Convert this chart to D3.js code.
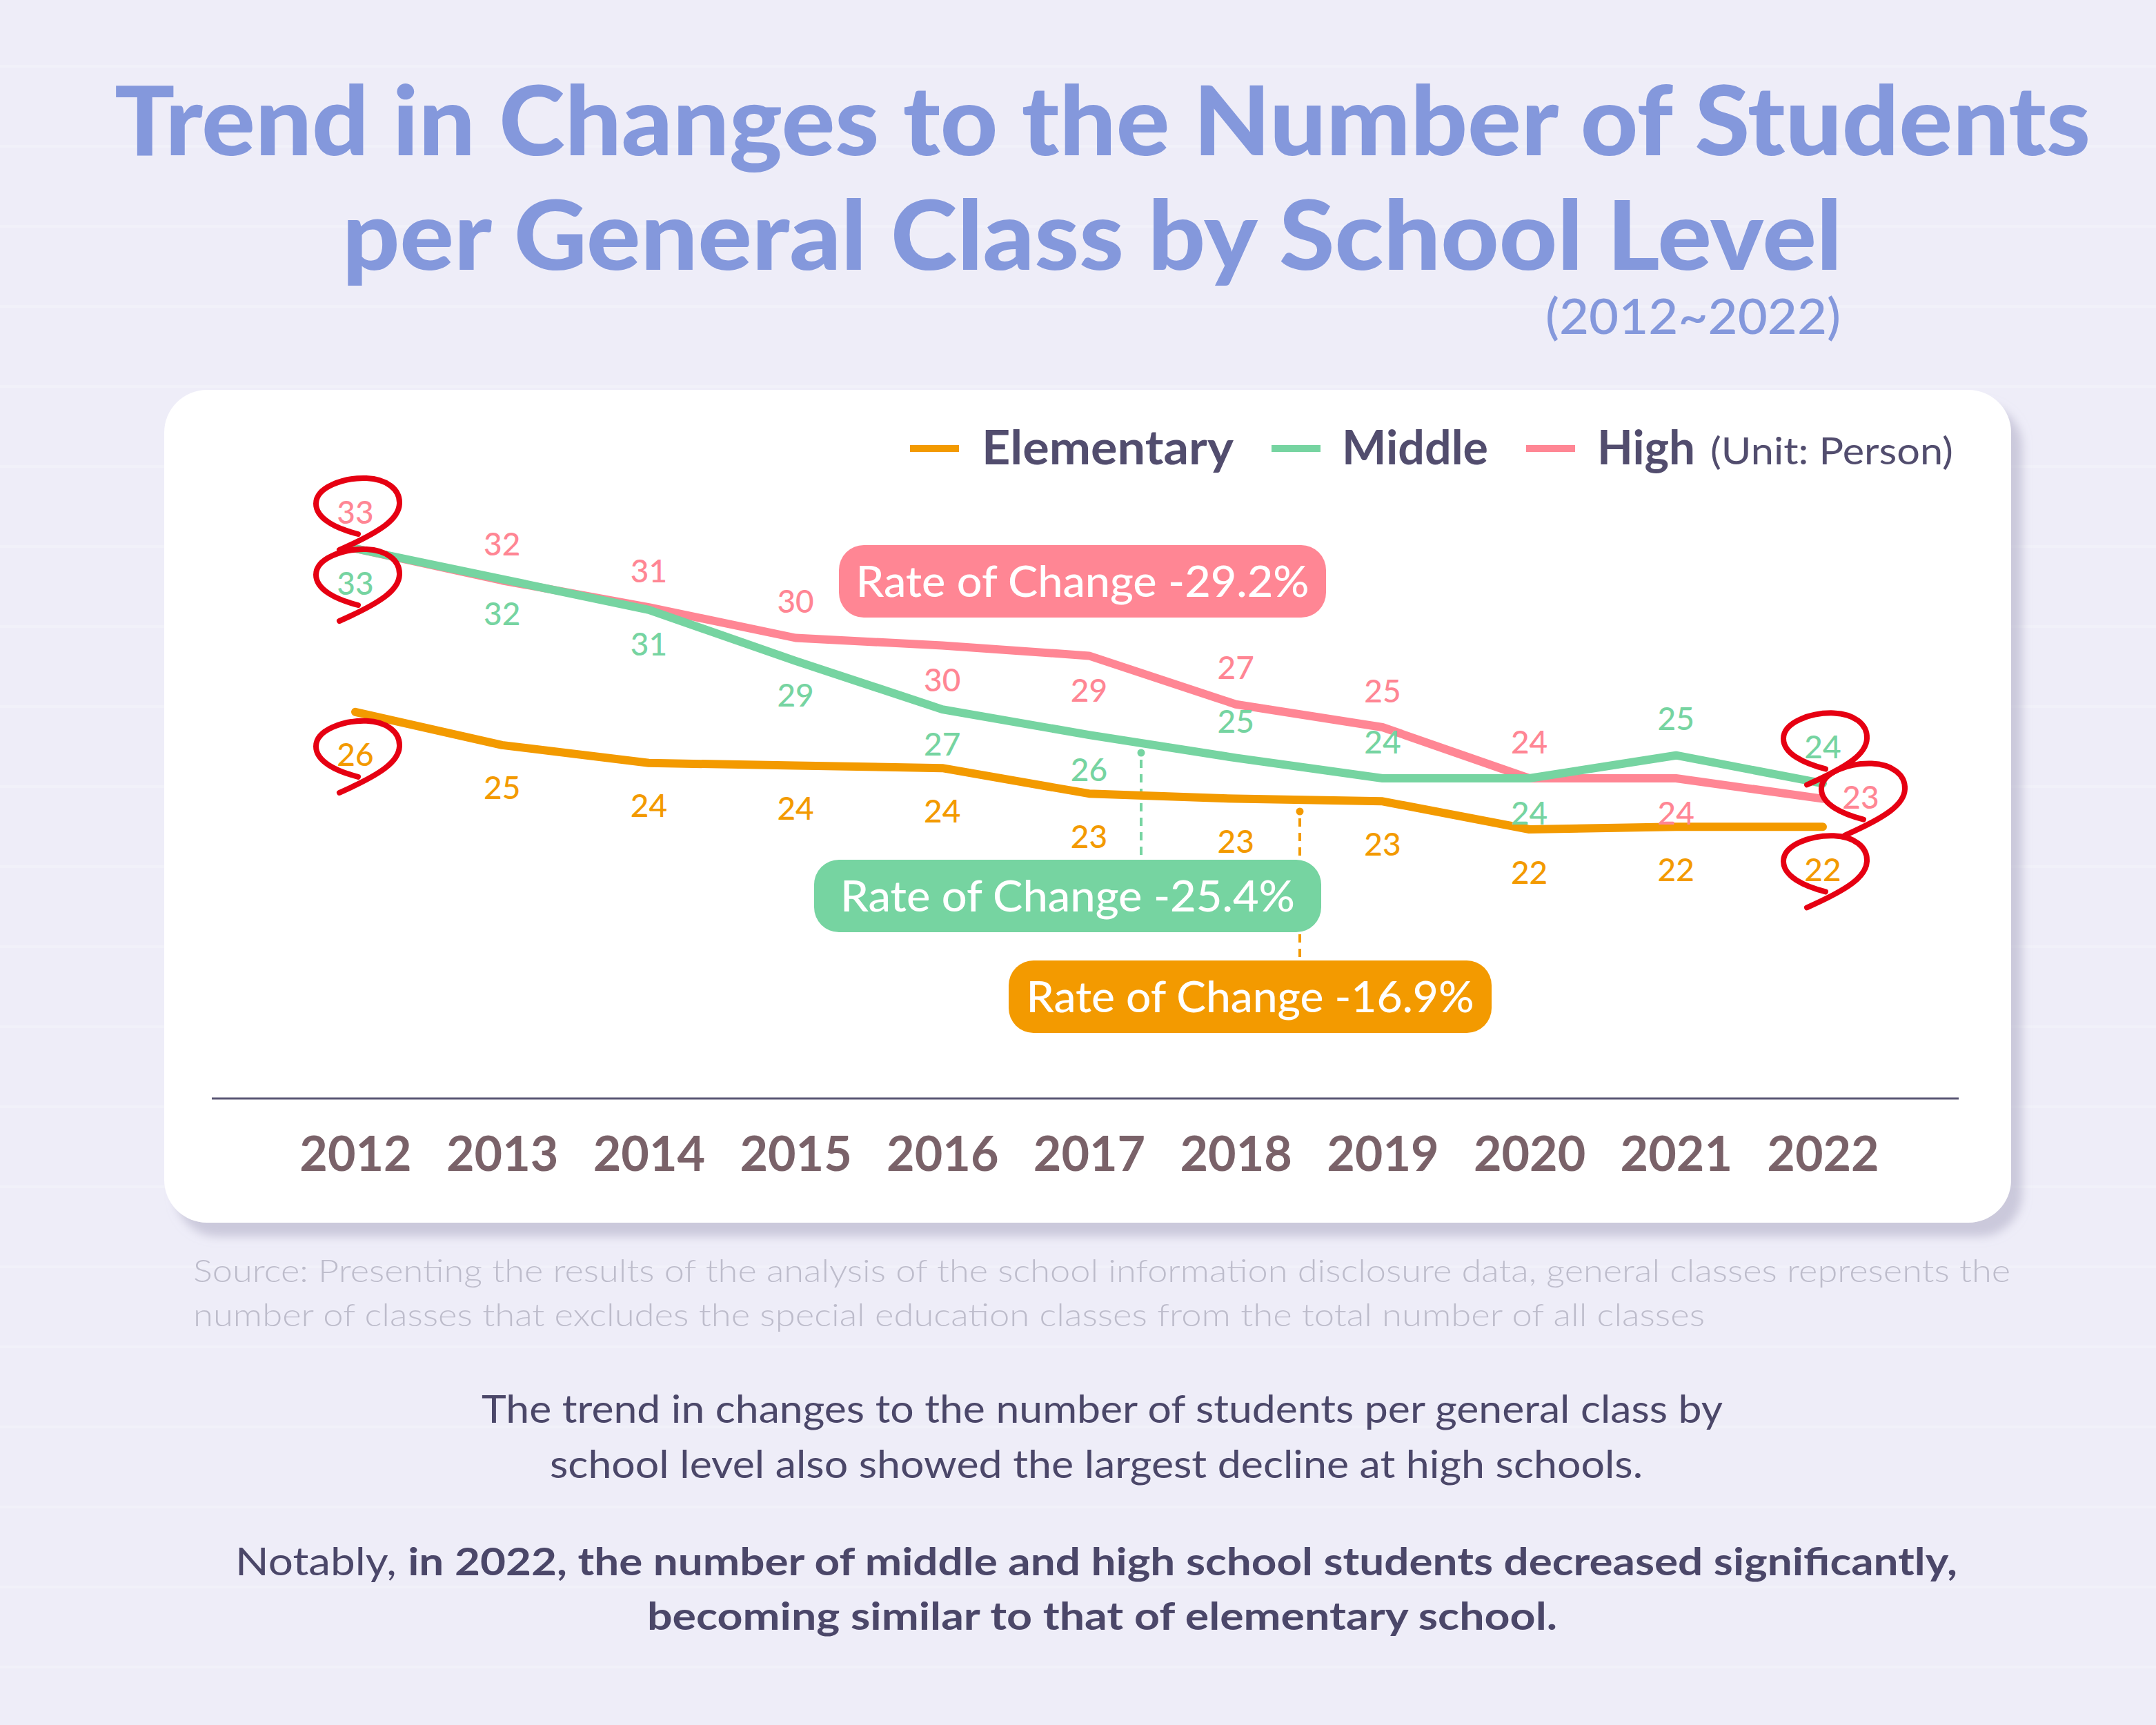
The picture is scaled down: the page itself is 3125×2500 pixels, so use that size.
<!DOCTYPE html>
<html>
<head>
<meta charset="utf-8">
<script src="https://cdn.jsdelivr.net/npm/d3@7"></script>
<style>
  html, body { margin: 0; padding: 0; background: #efeef8; }
  svg { display: block; }
</style>
</head>
<body>
<script>
// ---------------- DATA ----------------
const years = [2012, 2013, 2014, 2015, 2016, 2017, 2018, 2019, 2020, 2021, 2022];
const yearLabels = ["2012", "2013", "2014", "2015", "2016", "2017", "2018", "2019", "2020", "2021", "2022"];
const seriesNames = ["Elementary", "Middle", "High"];
const elementary = [26.6, 25.3, 24.6, 24.5, 24.4, 23.4, 23.2, 23.1, 22.0, 22.1, 22.1];
const middle     = [33.0, 31.8, 30.6, 28.6, 26.7, 25.7, 24.8, 24.0, 24.0, 24.9, 23.8];
const high       = [33.0, 31.75, 30.7, 29.5, 29.2, 28.8, 26.9, 26.0, 24.0, 24.0, 23.2];
const elementaryLabels = [26, 25, 24, 24, 24, 23, 23, 23, 22, 22, 22];
const middleLabels     = [33, 32, 31, 29, 27, 26, 25, 24, 24, 25, 24];
const highLabels       = [33, 32, 31, 30, 30, 29, 27, 25, 24, 24, 23];
const rateOfChange = ["-16.9%", "-25.4%", "-29.2%"]; // Elementary, Middle, High

// ---------------- LAYOUT / STYLE ----------------
const W = 3125, H = 2500;
const FONT = "Lato, 'Noto Sans', 'Open Sans', sans-serif";
const colors = { Elementary: "#f39a00", Middle: "#76d4a1", High: "#ff8694" };
const ringColor = "#e60012";
const textDark = "#524d6e";

// label placement: a = above, b = below, r = right
const placeElem   = ["b","b","b","b","b","b","b","b","b","b","b"];
const placeMiddle = ["b","b","b","b","b","b","a","a","b","a","a"];
const placeHigh   = ["a","a","a","a","b","b","a","a","a","b","r"];

const svg = d3.select("body").append("svg")
  .attr("width", W).attr("height", H)
  .attr("viewBox", `0 0 ${W} ${H}`);

const defs = svg.append("defs");
const f = defs.append("filter").attr("id", "cardShadow")
  .attr("x", "-5%").attr("y", "-5%").attr("width", "115%").attr("height", "120%");
f.append("feDropShadow").attr("dx", 16).attr("dy", 20).attr("stdDeviation", 7)
  .attr("flood-color", "#aeaac4").attr("flood-opacity", 0.55);

// background with faint paper lines
svg.append("rect").attr("width", W).attr("height", H).attr("fill", "#eeedf8");
const paperLines = d3.range(96, H, 116);
svg.append("g").selectAll("line").data(paperLines).join("line")
  .attr("x1", 0).attr("x2", W).attr("y1", d => d).attr("y2", d => d)
  .attr("stroke", "#ffffff").attr("stroke-opacity", 0.22).attr("stroke-width", 4);

// ---------------- TITLE ----------------
const titleColor = "#8498dc";
svg.append("text").attr("x", 166).attr("y", 225)
  .attr("textLength", 2864).attr("lengthAdjust", "spacingAndGlyphs")
  .attr("font-family", FONT).attr("font-weight", 900).attr("font-size", 140)
  .attr("fill", titleColor).text("Trend in Changes to the Number of Students");
svg.append("text").attr("x", 496).attr("y", 391)
  .attr("textLength", 2174).attr("lengthAdjust", "spacingAndGlyphs")
  .attr("font-family", FONT).attr("font-weight", 900).attr("font-size", 140)
  .attr("fill", titleColor).text("per General Class by School Level");
svg.append("text").attr("x", 2240).attr("y", 484)
  .attr("textLength", 428).attr("lengthAdjust", "spacingAndGlyphs")
  .attr("font-family", FONT).attr("font-weight", 500).attr("font-size", 72)
  .attr("fill", titleColor).text("(2012~2022)");

// ---------------- CARD ----------------
svg.append("rect").attr("x", 238).attr("y", 565).attr("width", 2677).attr("height", 1207)
  .attr("rx", 62).attr("fill", "#ffffff").attr("filter", "url(#cardShadow)");

// ---------------- LEGEND ----------------
const legendItems = [
  { name: "Elementary", sx: 1319, tx: 1423, tl: 365 },
  { name: "Middle",     sx: 1843, tx: 1945, tl: 212 },
  { name: "High",       sx: 2212, tx: 2315, tl: 142 }
];
const lg = svg.append("g");
lg.selectAll("rect").data(legendItems).join("rect")
  .attr("x", d => d.sx).attr("y", 645).attr("width", 71).attr("height", 10)
  .attr("fill", d => colors[d.name]);
lg.selectAll("text").data(legendItems).join("text")
  .attr("x", d => d.tx).attr("y", 673)
  .attr("textLength", d => d.tl).attr("lengthAdjust", "spacingAndGlyphs")
  .attr("font-family", FONT).attr("font-weight", 700).attr("font-size", 68)
  .attr("fill", textDark).text(d => d.name);
svg.append("text").attr("x", 2479).attr("y", 673)
  .attr("textLength", 352).attr("lengthAdjust", "spacingAndGlyphs")
  .attr("font-family", FONT).attr("font-weight", 400).attr("font-size", 54)
  .attr("fill", textDark).text("(Unit: Person)");

// ---------------- SCALES ----------------
const x = d3.scalePoint().domain(years).range([515, 2642]);
const y = d3.scaleLinear().domain([20, 33]).range([1276, 795]);

// x axis
svg.append("line").attr("x1", 307).attr("x2", 2839).attr("y1", 1592).attr("y2", 1592)
  .attr("stroke", "#5b5775").attr("stroke-width", 3);
const axisG = svg.append("g").attr("transform", "translate(0,1592)")
  .call(d3.axisBottom(x).tickSize(0).tickFormat((d, i) => yearLabels[i]));
axisG.select(".domain").remove();
axisG.selectAll("text")
  .attr("y", 105).attr("dy", 0)
  .attr("font-family", FONT).attr("font-weight", 700).attr("font-size", 70)
  .attr("fill", "#7a6269");

// ---------------- RATE OF CHANGE CONNECTORS ----------------
const connectors = [
  { color: colors.Middle,     x: 1654, y1: 1091, y2: 1246 },
  { color: colors.Elementary, x: 1884, y1: 1176, y2: 1392 }
];
connectors.forEach(c => {
  svg.append("line").attr("x1", c.x).attr("x2", c.x).attr("y1", c.y1 + 10).attr("y2", c.y2)
    .attr("stroke", c.color).attr("stroke-width", 4).attr("stroke-dasharray", "12 9");
  svg.append("circle").attr("cx", c.x).attr("cy", c.y1).attr("r", 5.5).attr("fill", c.color);
});

// ---------------- LINES ----------------
const lineGen = d3.line().x((d, i) => x(years[i])).y(d => y(d));
const series = [
  { name: "Elementary", values: elementary, labels: elementaryLabels, place: placeElem },
  { name: "High",       values: high,       labels: highLabels,       place: placeHigh },
  { name: "Middle",     values: middle,     labels: middleLabels,     place: placeMiddle }
];
svg.append("g").selectAll("path").data(series).join("path")
  .attr("d", d => lineGen(d.values))
  .attr("fill", "none").attr("stroke", d => colors[d.name])
  .attr("stroke-width", 12).attr("stroke-linecap", "round").attr("stroke-linejoin", "round");

// ---------------- VALUE LABELS ----------------
function labelPos(s, i) {
  const px = x(years[i]), py = y(s.values[i]);
  const p = s.place[i];
  if (p === "a") return [px, py - 53];
  if (p === "r") return [px + 55, py - 2];
  return [px, py + (s.name === "Elementary" ? 62 : 50)];
}
const labelData = [];
series.forEach(s => s.values.forEach((v, i) => {
  const [lx, ly] = labelPos(s, i);
  labelData.push({ name: s.name, text: s.labels[i], lx, ly, i });
}));
svg.append("g").selectAll("text").data(labelData).join("text")
  .attr("x", d => d.lx).attr("y", d => d.ly).attr("dy", "0.36em")
  .attr("text-anchor", "middle")
  .attr("font-family", FONT).attr("font-weight", 500).attr("font-size", 46)
  .attr("fill", d => colors[d.name]).text(d => d.text);

// ---------------- HAND-DRAWN RINGS ----------------
const ringPath = "M1,40 C-30,32 -60,18 -60,-4 C-60,-28 -20,-42 13,-41 C42,-40 62,-25 61,-4 C60,18 35,36 -26,63";
const ringed = labelData.filter(d => d.i === 0 || d.i === years.length - 1);
svg.append("g").selectAll("path").data(ringed).join("path")
  .attr("transform", d => `translate(${d.lx + 3},${d.ly - 8})`)
  .attr("d", ringPath)
  .attr("fill", "none").attr("stroke", ringColor).attr("stroke-width", 8)
  .attr("stroke-linecap", "round").attr("stroke-linejoin", "round");

// ---------------- RATE OF CHANGE BOXES ----------------
const boxes = [
  { name: "High",       rate: rateOfChange[2], x: 1216, y: 790,  w: 706, tl: 657 },
  { name: "Middle",     rate: rateOfChange[1], x: 1180, y: 1246, w: 735, tl: 659 },
  { name: "Elementary", rate: rateOfChange[0], x: 1462, y: 1392, w: 700, tl: 649 }
];
const bg = svg.append("g").selectAll("g").data(boxes).join("g");
bg.append("rect").attr("x", d => d.x).attr("y", d => d.y).attr("width", d => d.w).attr("height", 105)
  .attr("rx", 36).attr("fill", d => colors[d.name]);
bg.append("text").attr("x", d => d.x + d.w / 2).attr("y", d => d.y + 75)
  .attr("text-anchor", "middle")
  .attr("textLength", d => d.tl).attr("lengthAdjust", "spacingAndGlyphs")
  .attr("font-family", FONT).attr("font-weight", 500).attr("font-size", 62)
  .attr("fill", "#ffffff").text(d => "Rate of Change " + d.rate);

// ---------------- SOURCE ----------------
const srcColor = "#bdbccb";
svg.append("text").attr("x", 280).attr("y", 1858)
  .attr("textLength", 2634).attr("lengthAdjust", "spacingAndGlyphs")
  .attr("font-family", FONT).attr("font-weight", 300).attr("font-size", 46)
  .attr("fill", srcColor)
  .text("Source: Presenting the results of the analysis of the school information disclosure data, general classes represents the");
svg.append("text").attr("x", 280).attr("y", 1922)
  .attr("textLength", 2191).attr("lengthAdjust", "spacingAndGlyphs")
  .attr("font-family", FONT).attr("font-weight", 300).attr("font-size", 46)
  .attr("fill", srcColor)
  .text("number of classes that excludes the special education classes from the total number of all classes");

// ---------------- BODY TEXT ----------------
const bodyColor = "#4b4769";
svg.append("text").attr("x", 698).attr("y", 2062)
  .attr("textLength", 1799).attr("lengthAdjust", "spacingAndGlyphs")
  .attr("font-family", FONT).attr("font-weight", 400).attr("font-size", 56)
  .attr("fill", bodyColor)
  .text("The trend in changes to the number of students per general class by");
svg.append("text").attr("x", 797).attr("y", 2142)
  .attr("textLength", 1584).attr("lengthAdjust", "spacingAndGlyphs")
  .attr("font-family", FONT).attr("font-weight", 400).attr("font-size", 56)
  .attr("fill", bodyColor)
  .text("school level also showed the largest decline at high schools.");
const t3 = svg.append("text").attr("x", 341).attr("y", 2283)
  .attr("textLength", 2496).attr("lengthAdjust", "spacingAndGlyphs")
  .attr("font-family", FONT).attr("font-size", 56).attr("fill", bodyColor);
t3.append("tspan").attr("font-weight", 400).text("Notably, ");
t3.append("tspan").attr("font-weight", 700)
  .text("in 2022, the number of middle and high school students decreased significantly,");
svg.append("text").attr("x", 938).attr("y", 2362)
  .attr("textLength", 1319).attr("lengthAdjust", "spacingAndGlyphs")
  .attr("font-family", FONT).attr("font-weight", 700).attr("font-size", 56)
  .attr("fill", bodyColor)
  .text("becoming similar to that of elementary school.");
</script>
</body>
</html>
